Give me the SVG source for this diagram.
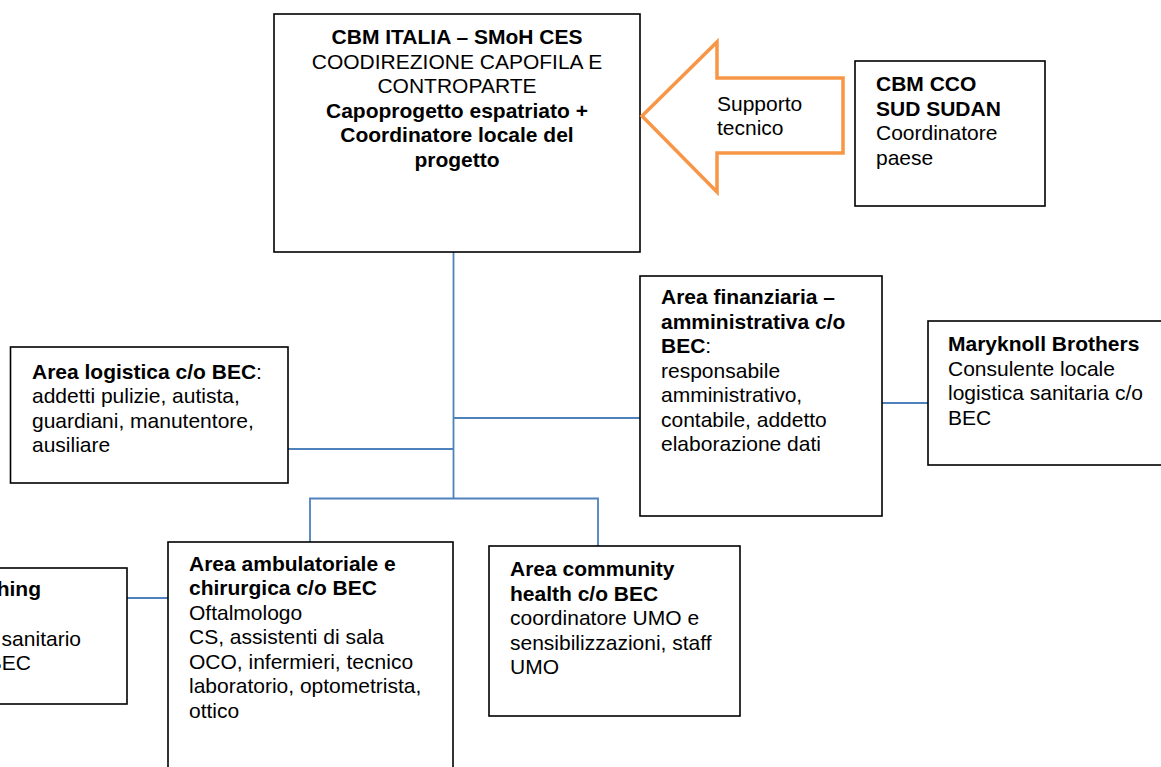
<svg xmlns="http://www.w3.org/2000/svg" width="1161" height="767" viewBox="0 0 1161 767">
<style>
.box{fill:#fff;stroke:#000;stroke-width:1.6}
.t{font-family:"Liberation Sans",Arial,sans-serif;font-size:21px;fill:#000}
.b{font-weight:bold}
.c{text-anchor:middle}
.e{text-anchor:end}
.con{fill:none;stroke:#4f81bd;stroke-width:1.8}
.arr{fill:#fff;stroke:#f79646;stroke-width:3.5;stroke-linejoin:miter}
</style>
<rect width="1161" height="767" fill="#fff"/>
<g id="connectors">
<path class="con" d="M453.5 252V498"/>
<path class="con" d="M288 449H453.5"/>
<path class="con" d="M453.5 418H640"/>
<path class="con" d="M310 542V498.5H598V546"/>
<path class="con" d="M882 403H928"/>
<path class="con" d="M127 598H168"/>
</g>
<g id="node-cbm-italia">
<rect class="box" x="274" y="14" width="366" height="238"/>
<text class="t c b" x="457" y="44">CBM ITALIA – SMoH CES</text>
<text class="t c" x="457" y="68.5">COODIREZIONE CAPOFILA E</text>
<text class="t c" x="457" y="93">CONTROPARTE</text>
<text class="t c b" x="457" y="117.5">Capoprogetto espatriato +</text>
<text class="t c b" x="457" y="142">Coordinatore locale del</text>
<text class="t c b" x="457" y="166.5">progetto</text>
</g>
<g id="arrow-supporto">
<polygon class="arr" points="642,116 717,42 717,78 843,78 843,153 717,153 717,192"/>
<text class="t" x="717" y="111">Supporto</text>
<text class="t" x="717" y="135">tecnico</text>
</g>
<g id="node-cbm-cco">
<rect class="box" x="855" y="61" width="190" height="145"/>
<text class="t b" x="876" y="91">CBM CCO</text>
<text class="t b" x="876" y="115.5">SUD SUDAN</text>
<text class="t" x="876" y="140">Coordinatore</text>
<text class="t" x="876" y="164.5">paese</text>
</g>
<g id="node-logistica">
<rect class="box" x="10.5" y="347" width="277.5" height="136"/>
<text class="t" x="32" y="378.5"><tspan class="b">Area logistica c/o BEC</tspan>:</text>
<text class="t" x="32" y="403">addetti pulizie, autista,</text>
<text class="t" x="32" y="427.5">guardiani, manutentore,</text>
<text class="t" x="32" y="452">ausiliare</text>
</g>
<g id="node-finanziaria">
<rect class="box" x="640" y="276" width="242" height="240"/>
<text class="t b" x="661" y="304">Area finanziaria –</text>
<text class="t b" x="661" y="328.5">amministrativa c/o</text>
<text class="t" x="661" y="353"><tspan class="b">BEC</tspan>:</text>
<text class="t" x="661" y="377.5">responsabile</text>
<text class="t" x="661" y="402">amministrativo,</text>
<text class="t" x="661" y="426.5">contabile, addetto</text>
<text class="t" x="661" y="451">elaborazione dati</text>
</g>
<g id="node-maryknoll">
<rect class="box" x="928" y="321" width="240" height="144"/>
<text class="t b" x="948" y="351">Maryknoll Brothers</text>
<text class="t" x="948" y="375.5">Consulente locale</text>
<text class="t" x="948" y="400">logistica sanitaria c/o</text>
<text class="t" x="948" y="424.5">BEC</text>
</g>
<g id="node-training">
<rect class="box" x="-20" y="568" width="147" height="136"/>
<text class="t b e" x="41" y="596">hing</text>
<text class="t e" x="81" y="645.5">sanitario</text>
<text class="t e" x="31" y="670">BEC</text>
</g>
<g id="node-ambulatoriale">
<rect class="box" x="168" y="542" width="285" height="240"/>
<text class="t b" x="189" y="570.5">Area ambulatoriale e</text>
<text class="t b" x="189" y="595">chirurgica c/o BEC</text>
<text class="t" x="189" y="619.5">Oftalmologo</text>
<text class="t" x="189" y="644">CS, assistenti di sala</text>
<text class="t" x="189" y="668.5">OCO, infermieri, tecnico</text>
<text class="t" x="189" y="693">laboratorio, optometrista,</text>
<text class="t" x="189" y="717.5">ottico</text>
</g>
<g id="node-community">
<rect class="box" x="489" y="546" width="251" height="170"/>
<text class="t b" x="510" y="576">Area community</text>
<text class="t b" x="510" y="600.5">health c/o BEC</text>
<text class="t" x="510" y="625">coordinatore UMO e</text>
<text class="t" x="510" y="649.5">sensibilizzazioni, staff</text>
<text class="t" x="510" y="674">UMO</text>
</g>
</svg>
